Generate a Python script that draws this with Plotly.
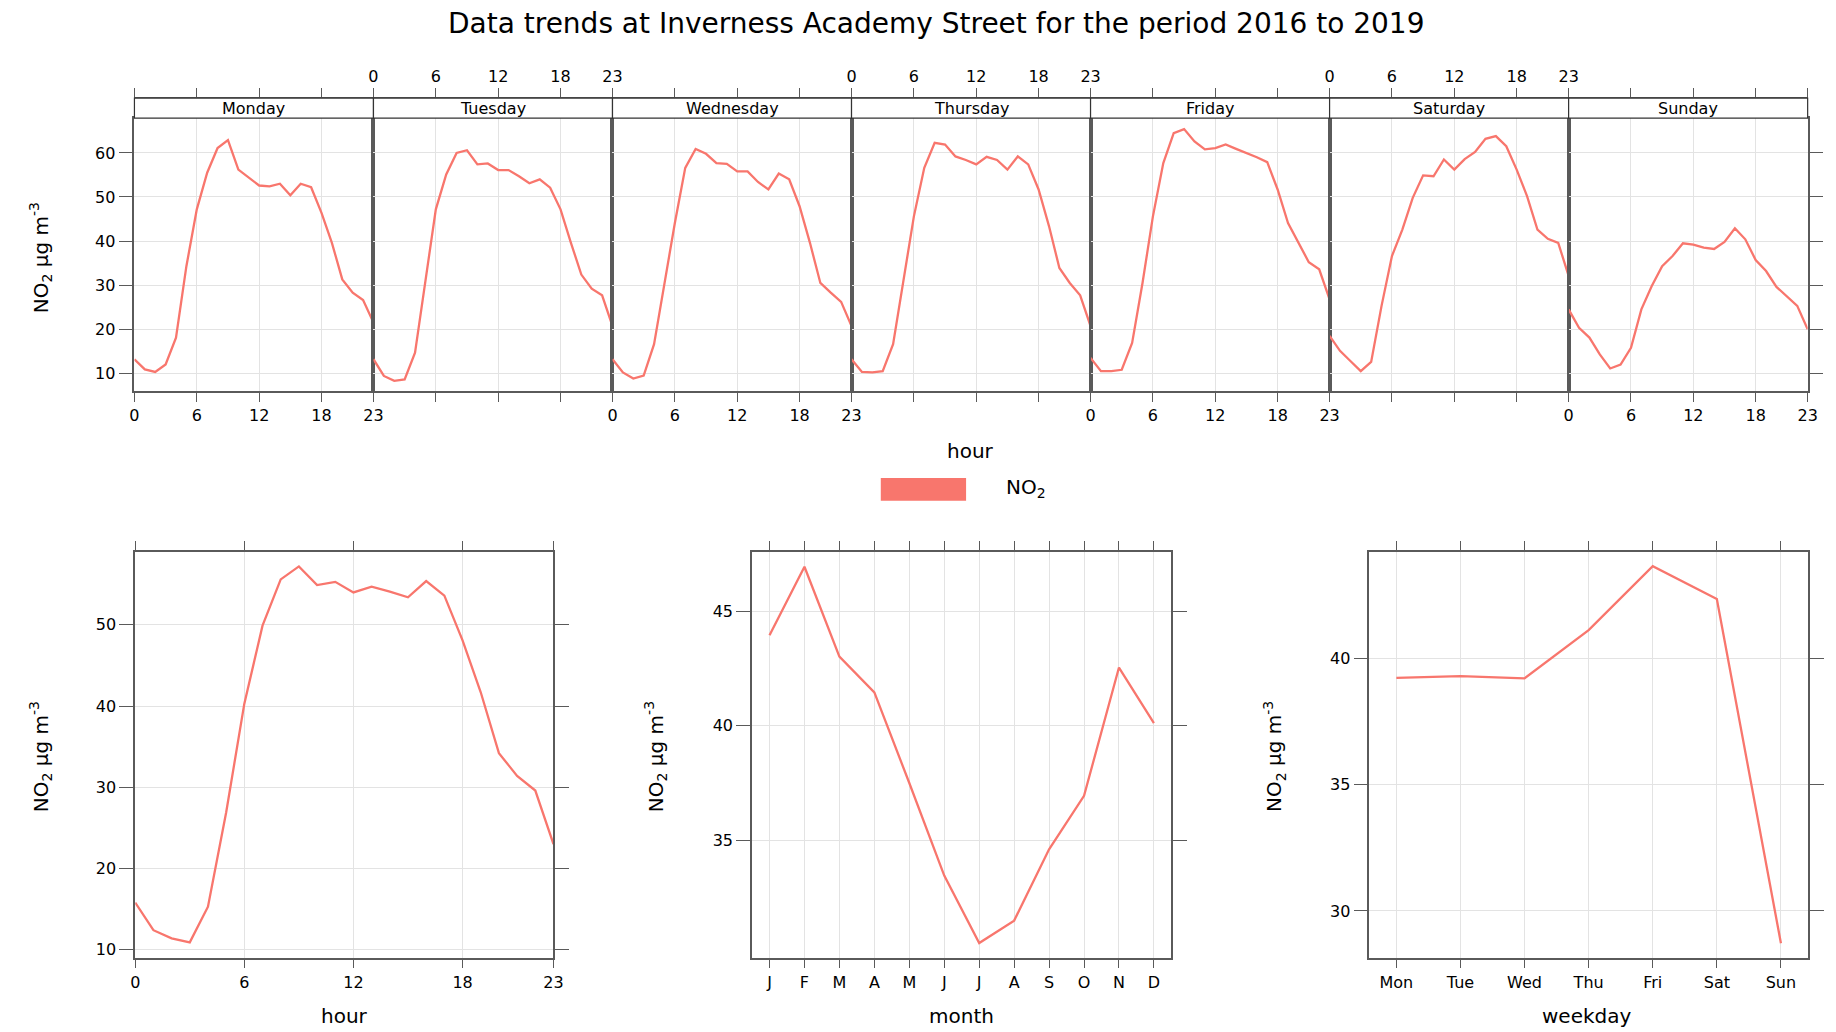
import plotly.graph_objects as go

# ---------------- data ----------------
day_names = ["Monday", "Tuesday", "Wednesday", "Thursday", "Friday", "Saturday", "Sunday"]
hours = list(range(24))
hour_ticks = [0, 6, 12, 18, 23]

monday = [13.2, 10.9, 10.3, 12.0, 18.1, 34.3, 47.2, 55.5, 61.1, 62.9, 56.2, 54.3,
          52.6, 52.4, 53.0, 50.4, 53.0, 52.2, 46.4, 39.6, 31.3, 28.3, 26.6, 21.5]
tuesday = [13.2, 9.4, 8.3, 8.6, 14.7, 30.5, 47.2, 55.1, 60.0, 60.6, 57.4, 57.6,
           56.1, 56.1, 54.7, 53.1, 54.0, 52.1, 47.2, 39.6, 32.4, 29.2, 27.7, 20.7]
wednesday = [13.2, 10.2, 8.8, 9.5, 16.6, 30.5, 44.1, 56.6, 60.9, 59.8, 57.7, 57.5,
             55.8, 55.8, 53.4, 51.7, 55.3, 54.0, 47.9, 39.6, 30.5, 28.3, 26.2, 20.7]
thursday = [13.2, 10.3, 10.2, 10.5, 16.6, 31.3, 45.6, 56.6, 62.3, 61.9, 59.2, 58.4,
            57.4, 59.1, 58.4, 56.2, 59.2, 57.4, 51.7, 43.4, 33.9, 30.5, 27.7, 20.7]
friday = [13.5, 10.5, 10.5, 10.8, 16.9, 30.5, 45.6, 57.7, 64.5, 65.4, 62.6, 60.8,
          61.1, 61.9, 60.9, 60.0, 59.0, 57.9, 51.7, 44.1, 39.6, 35.2, 33.6, 26.8]
saturday = [18.5, 15.1, 12.8, 10.5, 12.6, 25.3, 36.6, 42.6, 49.8, 54.9, 54.7, 58.5,
            56.2, 58.6, 60.2, 63.2, 63.8, 61.5, 56.2, 50.2, 42.6, 40.5, 39.6, 32.1]
sunday = [24.5, 20.3, 18.1, 14.3, 11.1, 12.0, 15.8, 24.5, 29.8, 34.3, 36.6, 39.5,
          39.2, 38.5, 38.2, 39.8, 42.9, 40.4, 35.7, 33.2, 29.6, 27.4, 25.3, 20.0]
day_series = [monday, tuesday, wednesday, thursday, friday, saturday, sunday]

hour_mean = [15.8, 12.4, 11.4, 10.9, 15.3, 26.9, 40.3, 49.9, 55.6, 57.2, 54.9, 55.3,
             54.0, 54.7, 54.1, 53.4, 55.4, 53.6, 48.1, 41.7, 34.2, 31.4, 29.6, 23.0]

month_labels = ["J", "F", "M", "A", "M", "J", "J", "A", "S", "O", "N", "D"]
month_mean = [43.96, 46.96, 43.03, 41.46, 37.5, 33.45, 30.5, 31.48, 34.6, 36.94, 42.55, 40.12]

weekday_labels = ["Mon", "Tue", "Wed", "Thu", "Fri", "Sat", "Sun"]
weekday_mean = [39.23, 39.30, 39.21, 41.12, 43.65, 42.35, 28.72]

# ---------------- styling / geometry ----------------
W, H = 1836, 1032
FONT = "DejaVu Sans"
LINE_COL = "#F8766D"
FRAME = "#5a5a5a"
GRID = "#e3e3e3"
TICK_FONT = dict(family=FONT, size=16, color="black")


def px(x):
    return x / W


def py(y):
    return 1 - y / H


TOP_L, DAY_W = 130.5, 241.0
STRIP_TOP, DATA_TOP, TOP_BOT = 98.3, 118.3, 391.7
B_TOP, B_BOT = 552.7, 959.5

fig = go.Figure()
layout = dict(
    width=W, height=H, autosize=False,
    margin=dict(l=0, r=0, t=0, b=0),
    paper_bgcolor="white", plot_bgcolor="white",
    showlegend=False,
    font=dict(family=FONT, color="black", size=16),
)
shapes, annotations = [], []

axis_common = dict(showline=True, linecolor=FRAME, linewidth=1.6, zeroline=False,
                   tickcolor=FRAME, tickwidth=1.4, tickfont=TICK_FONT,
                   gridcolor=GRID, gridwidth=1, showgrid=True)

# ---------------- top panel: hour by weekday ----------------
for i, (name, vals) in enumerate(zip(day_names, day_series)):
    xn, yn = i + 1, i + 1
    xkey = "xaxis" if xn == 1 else f"xaxis{xn}"
    ykey = "yaxis" if yn == 1 else f"yaxis{yn}"
    dom = [px(TOP_L + i * DAY_W), px(TOP_L + (i + 1) * DAY_W)]
    layout[xkey] = dict(axis_common, domain=dom, range=[0, 23], anchor=f"y{yn}",
                        tickvals=hour_ticks, ticks="outside", ticklen=9,
                        showticklabels=(i % 2 == 0), mirror=True)
    ydict = dict(axis_common, domain=[py(TOP_BOT), py(DATA_TOP)], range=[6.0, 67.9],
                 anchor=f"x{xn}", tickvals=[10, 20, 30, 40, 50, 60], mirror=True,
                 showticklabels=(i == 0), ticklen=14)
    if i == 0:
        ydict.update(ticks="outside", side="left")
    elif i == 6:
        ydict.update(ticks="outside", side="right")
    else:
        ydict.update(ticks="")
    layout[ykey] = ydict

    # top tick axis above the strip
    tn = 8 + i
    layout[f"xaxis{tn}"] = dict(axis_common, domain=dom, range=[0, 23], overlaying=f"x{xn}",
                                anchor="free", position=py(STRIP_TOP), side="top",
                                tickvals=hour_ticks, ticks="outside", ticklen=9,
                                showticklabels=(i % 2 == 1), showgrid=False)
    fig.add_trace(go.Scatter(x=[0, 23], y=[30, 30], xaxis=f"x{tn}", yaxis=f"y{yn}",
                             mode="lines", line=dict(width=0), opacity=0,
                             hoverinfo="skip", showlegend=False))

    fig.add_trace(go.Scatter(x=hours, y=vals, xaxis=f"x{xn}", yaxis=f"y{yn}",
                             mode="lines", line=dict(color=LINE_COL, width=2.3),
                             name="NO2", showlegend=False))

    # strip
    shapes.append(dict(type="rect", xref="paper", yref="paper",
                       x0=dom[0], x1=dom[1], y0=py(DATA_TOP), y1=py(STRIP_TOP),
                       fillcolor="white", line=dict(color="#333333", width=1.2),
                       layer="above"))
    annotations.append(dict(text=name, xref="paper", yref="paper",
                            x=(dom[0] + dom[1]) / 2, y=py((STRIP_TOP + DATA_TOP) / 2),
                            showarrow=False, xanchor="center", yanchor="middle",
                            font=dict(family=FONT, size=16, color="black")))

# ---------------- bottom panels ----------------
bottom_specs = [
    (15, 8, (131.3, 553.0), [0, 23], hour_ticks, [str(v) for v in hour_ticks],
     [9.02, 59.02], [10, 20, 30, 40, 50], hours, hour_mean),
    (16, 9, (753.2, 1176.0), [0.5, 12.5], list(range(1, len(month_labels) + 1)), month_labels,
     [29.86, 47.62], [35, 40, 45], list(range(1, len(month_mean) + 1)), month_mean),
    (17, 10, (1375.7, 1817.7), [0.58, 7.42], list(range(1, len(weekday_labels) + 1)), weekday_labels,
     [28.15, 44.23], [30, 35, 40], list(range(1, len(weekday_mean) + 1)), weekday_mean),
]
for xn, yn, (xl, xr), xr_, tv, tt, yr, ytv, xv, yv in bottom_specs:
    layout[f"xaxis{xn}"] = dict(axis_common, domain=[px(xl), px(xr)], range=xr_, anchor=f"y{yn}",
                                tickvals=tv, ticktext=tt, ticks="outside", ticklen=9,
                                mirror="ticks")
    layout[f"yaxis{yn}"] = dict(axis_common, domain=[py(B_BOT), py(B_TOP)], range=yr, anchor=f"x{xn}",
                                tickvals=ytv, ticks="outside", ticklen=14, mirror="ticks")
    fig.add_trace(go.Scatter(x=xv, y=yv, xaxis=f"x{xn}", yaxis=f"y{yn}", mode="lines",
                             line=dict(color=LINE_COL, width=2.3), name="NO2", showlegend=False))

# ---------------- text ----------------
def ann(text, x, y, size, angle=0, xanchor="center"):
    annotations.append(dict(text=text, xref="paper", yref="paper", x=px(x), y=py(y),
                            showarrow=False, xanchor=xanchor, yanchor="middle",
                            textangle=angle, font=dict(family=FONT, size=size, color="black")))


ann("Data trends at Inverness Academy Street for the period 2016 to 2019", 939, 24, 28)
ann("hour", 973, 452, 20)
ylab = "NO<sub>2</sub> µg m<sup>-3</sup>"
ann(ylab, 36, 258, 20, angle=-90)
ann(ylab, 36, 758, 20, angle=-90)
ann(ylab, 656, 758, 20, angle=-90)
ann(ylab, 1280, 758, 20, angle=-90)
ann("hour", 342, 1018, 20)
ann("month", 964, 1018, 20)
ann("weekday", 1595, 1018, 20)

# legend key
shapes.append(dict(type="rect", xref="paper", yref="paper", x0=px(883), x1=px(969),
                   y0=py(501.7), y1=py(479), fillcolor=LINE_COL, line=dict(width=0)))
ann("NO<sub>2</sub>", 1007, 489, 20, xanchor="left")

layout["shapes"] = shapes
layout["annotations"] = annotations
fig.update_layout(**layout)
fig.write_html("out.html")
